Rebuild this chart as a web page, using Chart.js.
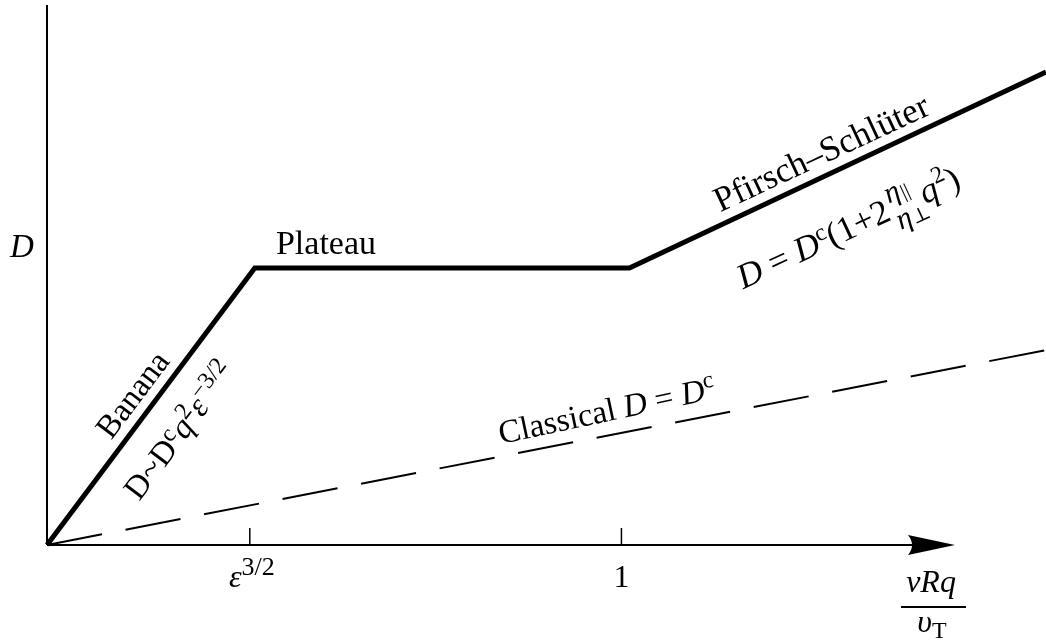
<!DOCTYPE html>
<html lang="en">
<head>
    <meta charset="UTF-8">
    <title>Neoclassical diffusion regimes</title>
    <script src="https://cdn.jsdelivr.net/npm/chart.js"></script>
    <style>
        body { margin: 0; background: #fff; }
        #wrap { width: 1046px; height: 642px; }
    </style>
</head>
<body>
<div id="wrap"><canvas id="regimeChart" width="1046" height="642"></canvas></div>
<script>
    // collisionality (arbitrary units along x) and diffusion coefficient D
    const regimeX = [0, 20.8, 58.3, 100];
    const regimeD = [0, 51.3, 51.3, 87.6];
    const classicalX = [0, 100];
    const classicalD = [0, 36.1];
    const tickValues = [20.3, 57.5];
    const tickBases = ["ε", "1"];
    const tickSups = ["3/2", ""];

    const SERIF = '"Liberation Serif", "DejaVu Serif", serif';
    const f = (size, italic) => (italic ? "italic " : "") + size + "px " + SERIF;

    // draws a run of text pieces one after another, each with its own font and vertical shift
    function drawRuns(ctx, x, y, angle, runs, align) {
        ctx.save();
        ctx.translate(x, y);
        ctx.rotate(angle * Math.PI / 180);
        let total = 0;
        runs.forEach(r => { ctx.font = r.font; r.w = r.w != null ? r.w : ctx.measureText(r.t).width; total += r.w; });
        let cx = align === "center" ? -total / 2 : 0;
        ctx.textBaseline = "alphabetic";
        ctx.textAlign = "left";
        runs.forEach(r => {
            ctx.font = r.font;
            if (r.t) ctx.fillText(r.t, cx + (r.dx || 0), r.dy || 0);
            if (r.draw) r.draw(ctx, cx);
            cx += r.w;
        });
        ctx.restore();
    }

    const decorations = {
        id: "decorations",
        afterDatasetsDraw(chart) {
            const ctx = chart.ctx;
            const xs = chart.scales.x, ys = chart.scales.y;
            const x0 = xs.getPixelForValue(0), y0 = ys.getPixelForValue(0);
            ctx.save();
            ctx.fillStyle = "#000";
            ctx.strokeStyle = "#000";

            // axes
            ctx.lineWidth = 2;
            ctx.beginPath();
            ctx.moveTo(x0, y0);
            ctx.lineTo(x0, ys.getPixelForValue(100));
            ctx.moveTo(x0, y0);
            ctx.lineTo(912, y0);
            ctx.stroke();
            // arrow head
            ctx.beginPath();
            ctx.moveTo(955, y0);
            ctx.lineTo(908, y0 - 10);
            ctx.quadraticCurveTo(916, y0, 908, y0 + 10);
            ctx.closePath();
            ctx.fill();

            // ticks and tick labels
            ctx.lineWidth = 1.5;
            tickValues.forEach((v, i) => {
                const px = xs.getPixelForValue(v);
                ctx.beginPath();
                ctx.moveTo(px, y0);
                ctx.lineTo(px, y0 - 17);
                ctx.stroke();
                const runs = [{ t: tickBases[i], font: f(32, i === 0) }];
                if (tickSups[i]) runs.push({ t: tickSups[i], font: f(26), dy: -12 });
                drawRuns(ctx, px + (i === 0 ? 2 : 0), y0 + 42, 0, runs, "center");
            });

            // x axis title vRq / υT
            ctx.textAlign = "center";
            ctx.font = f(32, true);
            ctx.fillText("vRq", 931, 592);
            ctx.fillRect(901, 606, 65, 2);
            drawRuns(ctx, 932, 632, 0, [
                { t: "υ", font: f(32, true) },
                { t: "T", font: f(24), dy: 6 }
            ], "center");

            // y axis title
            ctx.font = f(33, true);
            ctx.textAlign = "center";
            ctx.fillText("D", 22, 257);

            // regime labels
            drawRuns(ctx, 326, 254, 0, [{ t: "Plateau", font: f(34) }], "center");
            drawRuns(ctx, 141, 401, -53, [{ t: "Banana", font: f(33) }], "center");
            drawRuns(ctx, 188, 437, -53, [
                { t: "D~D", font: f(33) },
                { t: "c", font: f(24), dy: -10 },
                { t: "q", font: f(33, true) },
                { t: "2", font: f(24), dy: -12 },
                { t: "ε", font: f(33, true) },
                { t: "−3/2", font: f(24), dy: -12 }
            ], "center");
            drawRuns(ctx, 826, 163, -25, [{ t: "Pfirsch–Schlüter", font: f(35) }], "center");
            drawRuns(ctx, 853, 238, -25, [
                { t: "D", font: f(35, true) },
                { t: " = ", font: f(35) },
                { t: "D", font: f(35, true) },
                { t: "c", font: f(24), dy: -11 },
                { t: "(1+2", font: f(35) },
                { t: "", font: f(30, true), w: 36, draw: (c, cx) => {
                    c.font = f(30, true);
                    c.fillText("η", cx + 3, -16);
                    c.fillText("η", cx + 3, 13);
                    c.font = f(20);
                    c.fillText("||", cx + 19, -14);
                    c.fillText("⊥", cx + 18, 14);
                } },
                { t: "q", font: f(35, true) },
                { t: "2", font: f(24), dy: -14 },
                { t: ")", font: f(35) }
            ], "center");
            drawRuns(ctx, 609, 421, -12, [
                { t: "Classical ", font: f(33) },
                { t: "D", font: f(33, true) },
                { t: " = ", font: f(33) },
                { t: "D", font: f(33, true) },
                { t: "c", font: f(24), dy: -12 }
            ], "center");

            ctx.restore();
        }
    };

    new Chart(document.getElementById("regimeChart"), {
        type: "line",
        data: {
            datasets: [
                {
                    label: "Neoclassical",
                    data: regimeX.map((x, i) => ({ x: x, y: regimeD[i] })),
                    borderColor: "#000",
                    borderWidth: 5,
                    borderJoinStyle: "miter",
                    pointRadius: 0,
                    tension: 0,
                    clip: false
                },
                {
                    label: "Classical",
                    data: classicalX.map((x, i) => ({ x: x, y: classicalD[i] })),
                    borderColor: "#000",
                    borderWidth: 2,
                    borderDash: [56, 24],
                    pointRadius: 0,
                    tension: 0,
                    clip: false
                }
            ]
        },
        options: {
            responsive: false,
            animation: false,
            layout: { padding: { left: 47, right: 0, top: 5, bottom: 97 } },
            plugins: { legend: { display: false }, tooltip: { enabled: false } },
            scales: {
                x: { type: "linear", min: 0, max: 100, display: false },
                y: { type: "linear", min: 0, max: 100, display: false }
            }
        },
        plugins: [decorations]
    });
</script>
</body>
</html>
